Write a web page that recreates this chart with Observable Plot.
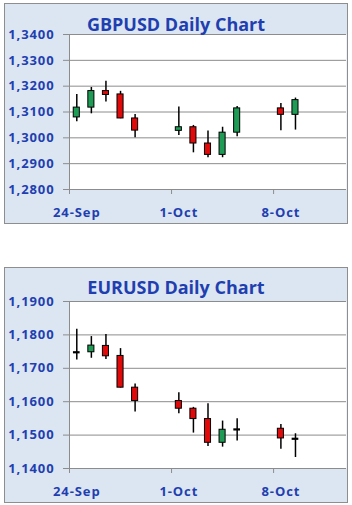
<!DOCTYPE html>
<html><head><meta charset="utf-8">
<script src="https://cdn.jsdelivr.net/npm/d3@7"></script>
<script src="https://cdn.jsdelivr.net/npm/@observablehq/plot@0.6"></script>
<style>
body{margin:0;width:352px;height:505px;position:relative;background:#fff;overflow:hidden}
.panel{position:absolute;left:4px;width:342px;border:1px solid #8e8e8e;background:#dce6f2}
.title{position:absolute;left:0;width:100%;text-align:center;font:bold 18px/18px 'Open Sans';color:#1f3fb0;z-index:2;white-space:nowrap}
.panel svg{position:absolute;left:0;top:0}
</style>
</head><body>
<div class="panel" id="p1" style="top:3px;height:219px"><div class="title" style="top:11px">GBPUSD Daily Chart</div></div>
<div class="panel" id="p2" style="top:267px;height:234px"><div class="title" style="top:10px">EURUSD Daily Chart</div></div>
<script>
const dates = ["2018-09-24","2018-09-25","2018-09-26","2018-09-27","2018-09-28","2018-10-01","2018-10-02","2018-10-03","2018-10-04","2018-10-05","2018-10-08","2018-10-09"];

const gbpOpen  = [1.3079, 1.3117, 1.3181, 1.3168, 1.3075, 1.3027, 1.3041, 1.2978, 1.2934, 1.3020, 1.3114, 1.3089];
const gbpHigh  = [1.3168, 1.3195, 1.3219, 1.3180, 1.3090, 1.3119, 1.3048, 1.3026, 1.3041, 1.3121, 1.3133, 1.3154];
const gbpLow   = [1.3062, 1.3093, 1.3139, 1.3074, 1.3000, 1.3009, 1.2942, 1.2923, 1.2923, 1.3004, 1.3027, 1.3030];
const gbpClose = [1.3117, 1.3181, 1.3166, 1.3075, 1.3028, 1.3041, 1.2978, 1.2934, 1.3020, 1.3114, 1.3089, 1.3146];

const eurOpen  = [1.1748, 1.1748, 1.1767, 1.1737, 1.1642, 1.1602, 1.1579, 1.1548, 1.1477, 1.1517, 1.1519, 1.1489];
const eurHigh  = [1.1817, 1.1795, 1.1801, 1.1759, 1.1653, 1.1627, 1.1583, 1.1594, 1.1542, 1.1549, 1.1532, 1.1504];
const eurLow   = [1.1725, 1.1730, 1.1726, 1.1641, 1.1569, 1.1564, 1.1506, 1.1466, 1.1464, 1.1482, 1.1458, 1.1433];
const eurClose = [1.1748, 1.1768, 1.1736, 1.1642, 1.1602, 1.1579, 1.1548, 1.1477, 1.1516, 1.1517, 1.1490, 1.1489];

const xTickDates  = ["2018-09-24","2018-10-01","2018-10-08"];
const xTickLabels = ["24-Sep","1-Oct","8-Oct"];
const xDomain     = ["2018-09-24","2018-10-13"];
const gbpYTicks = [1.28, 1.29, 1.30, 1.31, 1.32, 1.33, 1.34];
const eurYTicks = [1.14, 1.15, 1.16, 1.17, 1.18, 1.19];

const BLUE = "#1f3fb0", GRID = "#8c8c8c", UP = "#1e9b55", DOWN = "#e10a0a";
const H = 3600e3;
const day = s => new Date(s + "T00:00:00Z");
const noon = s => new Date(s + "T12:00:00Z");

function chart(open, high, low, close, yTicks, height, marginTop) {
  const data = dates.map((d, i) => ({date: noon(d), open: open[i], high: high[i], low: low[i], close: close[i]}));
  const labelDates = xTickDates.map(noon);
  const labelOf = d => xTickLabels[labelDates.findIndex(t => +t === +d)];
  return Plot.plot({
    width: 342, height,
    marginLeft: 64, marginRight: 1, marginTop, marginBottom: 34,
    style: {fontFamily: "'Open Sans'", fontSize: "13px", fontWeight: "bold", color: BLUE, background: "transparent", overflow: "visible", letterSpacing: "0.9px"},
    x: {type: "utc", domain: xDomain.map(day), label: null},
    y: {domain: [yTicks[0], yTicks[yTicks.length - 1]], label: null},
    marks: [
      Plot.frame({fill: "white", stroke: "none"}),
      Plot.gridY(yTicks, {stroke: GRID, strokeOpacity: 1, strokeWidth: 1}),
      Plot.ruleX([day(xDomain[0])], {stroke: GRID, strokeWidth: 1}),
      Plot.axisY(yTicks, {tickSize: 6, tickPadding: 9, stroke: GRID, fill: BLUE, label: null, tickFormat: d => d.toFixed(4).replace(".", ",")}),
      Plot.axisX(xTickDates.map(day), {tickSize: 5, stroke: GRID, label: null, tickFormat: () => ""}),
      Plot.axisX(labelDates, {tickSize: 0, tickPadding: 18, fill: BLUE, label: null, tickFormat: labelOf}),
      Plot.ruleX(data, {x: "date", y1: "low", y2: "high", stroke: "black", strokeWidth: 1.5}),
      Plot.rect(data.filter(d => d.open !== d.close), {
        x1: d => new Date(+d.date - 5 * H), x2: d => new Date(+d.date + 5 * H),
        y1: "open", y2: "close",
        fill: d => d.close > d.open ? UP : DOWN, stroke: "black", strokeWidth: 1
      }),
      Plot.ruleY(data.filter(d => d.open === d.close), {
        y: "close", x1: d => new Date(+d.date - 5.5 * H), x2: d => new Date(+d.date + 5.5 * H),
        stroke: "black", strokeWidth: 2.2
      })
    ]
  });
}

document.getElementById("p1").appendChild(chart(gbpOpen, gbpHigh, gbpLow, gbpClose, gbpYTicks, 219, 30));
document.getElementById("p2").appendChild(chart(eurOpen, eurHigh, eurLow, eurClose, eurYTicks, 234, 33));
</script>
</body></html>
